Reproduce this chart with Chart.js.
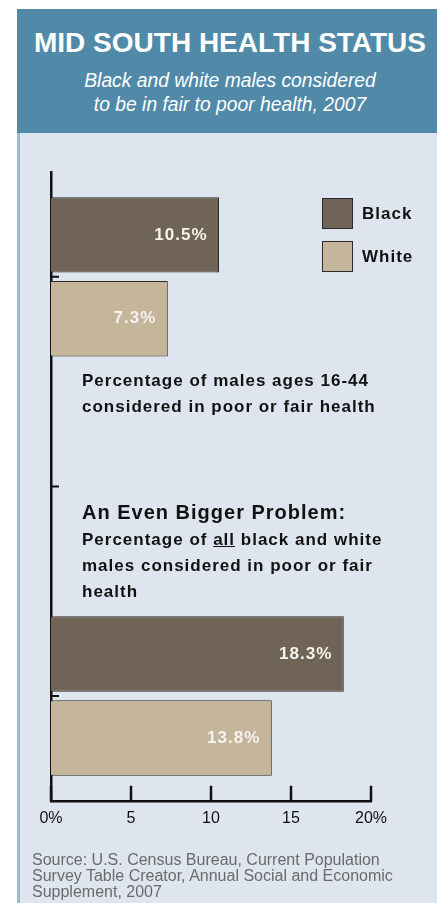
<!DOCTYPE html>
<html>
<head>
<meta charset="utf-8">
<script src="https://cdn.jsdelivr.net/npm/chart.js@4.4.1/dist/chart.umd.min.js"></script>
<style>
  body { margin: 0; width: 437px; height: 903px; overflow: hidden; position: relative; background: #fff;
         font-family: "Liberation Sans", Arial, sans-serif; }
  #cabecera { position: absolute; left: 17px; top: 9px; width: 420px; height: 124px; background: #518aa8; }
  #panel { position: absolute; left: 17px; top: 133px; width: 417px; height: 770px; background: #dfe5ef;
           border-left: 3px solid #9dbad2; }
  .linea { position: absolute; white-space: nowrap; }
  #titulo { left: 20px; width: 420px; top: 27px; line-height: 32px; text-align: center; color: #fff;
            font-size: 28px; font-weight: bold; }
  #subtitulo { left: 20px; width: 420px; top: 69px; line-height: 24px; text-align: center; color: #fff;
               font-size: 19.3px; font-style: italic; }
  .nota { left: 82px; color: #111; font-weight: bold; font-size: 17px; letter-spacing: 1px; line-height: 26px; }
  #problema { font-size: 20px; }
  #fuente { left: 32px; top: 852px; color: #6a6a6a; font-size: 16px; line-height: 16px; }
  #leyenda { position: absolute; left: 322px; top: 198px; }
  .item { display: flex; align-items: center; height: 31px; margin-bottom: 12px; }
  .caja { width: 29px; height: 29px; border: 1px solid #2a2a2a; margin-right: 9px; }
  .item span { font-weight: bold; font-size: 17px; letter-spacing: 1px; color: #111; }
  canvas { position: absolute; left: 0; top: 0; }
</style>
</head>
<body>
<div id="cabecera"></div>
<div id="panel"></div>
<div class="linea" id="titulo">MID SOUTH HEALTH STATUS</div>
<div class="linea" id="subtitulo">Black and white males considered<br>to be in fair to poor health, 2007</div>
<canvas id="grafico" width="437" height="903"></canvas>
<div id="leyenda"></div>
<div class="linea nota" style="top:368px">Percentage of males ages 16-44<br>considered in poor or fair health</div>
<div class="linea nota" id="problema" style="top:499px">An Even Bigger Problem:</div>
<div class="linea nota" style="top:527px">Percentage of <u>all</u> black and white<br>males considered in poor or fair<br>health</div>
<div class="linea" id="fuente">Source: U.S. Census Bureau, Current Population<br>Survey Table Creator, Annual Social and Economic<br>Supplement, 2007</div>
<script>
const categorias = ["Males ages 16-44", "", "All males"];
const series = ["Black", "White"];
const valoresBlack = [10.5, null, 18.3];
const valoresWhite = [7.3, null, 13.8];
const etiquetasX = ["0%", "5", "10", "15", "20%"];

const COLORES = ["#6f6456", "#c4b59b"];
const FUENTE = '"Liberation Sans", Arial, sans-serif';

// leyenda en html
const leyenda = document.getElementById("leyenda");
series.forEach((s, i) => {
    const item = document.createElement("div");
    item.className = "item";
    item.innerHTML = '<div class="caja" style="background:' + COLORES[i] + '"></div><span>' + s + '</span>';
    leyenda.appendChild(item);
});

// marcas de los ejes hacia dentro
const marcasInteriores = {
    id: "marcasInteriores",
    afterDraw(chart) {
        const {ctx, chartArea, scales: {x, y}} = chart;
        ctx.save();
        ctx.strokeStyle = "#111";
        ctx.lineWidth = 2.5;
        ctx.beginPath();
        x.ticks.forEach((t, i) => {
            const px = x.getPixelForTick(i);
            ctx.moveTo(px, chartArea.bottom + 1);
            ctx.lineTo(px, chartArea.bottom - 15);
        });
        ctx.stroke();
        ctx.lineWidth = 2;
        ctx.beginPath();
        y.ticks.forEach((t, i) => {
            const py = y.getPixelForTick(i);
            ctx.moveTo(chartArea.left - 1, py);
            ctx.lineTo(chartArea.left + 8, py);
        });
        ctx.stroke();
        ctx.restore();
    }
};

const etiquetasBarras = {
    id: "etiquetasBarras",
    afterDatasetsDraw(chart) {
        const ctx = chart.ctx;
        ctx.save();
        ctx.font = "bold 17px " + FUENTE;
        ctx.letterSpacing = "1px";
        ctx.fillStyle = "#f6f4ef";
        ctx.textAlign = "right";
        ctx.textBaseline = "middle";
        chart.data.datasets.forEach((ds, i) => {
            chart.getDatasetMeta(i).data.forEach((barra, j) => {
                if (ds.data[j] == null) return;
                ctx.fillText(ds.data[j].toFixed(1) + "%", barra.x - 11.5, barra.y);
            });
        });
        ctx.restore();
    }
};

const ctx = document.getElementById("grafico").getContext("2d");
new Chart(ctx, {
    type: "bar",
    data: {
        labels: categorias,
        datasets: [
            {label: series[0], data: valoresBlack, backgroundColor: COLORES[0], borderColor: "#2e2a26", borderWidth: 1},
            {label: series[1], data: valoresWhite, backgroundColor: COLORES[1], borderColor: "#2e2a26", borderWidth: 1}
        ]
    },
    options: {
        indexAxis: "y",
        responsive: false,
        animation: false,
        categoryPercentage: 0.8,
        barPercentage: 0.9,
        layout: {padding: {left: 51, top: 172, right: 66, bottom: 67}},
        plugins: {legend: {display: false}, tooltip: {enabled: false}},
        scales: {
            x: {
                min: 0, max: 20,
                grid: {display: false, drawTicks: false},
                border: {display: true, color: "#111", width: 2.5},
                ticks: {
                    stepSize: 5, padding: 8, color: "#111",
                    font: {family: FUENTE, size: 16},
                    callback: (v, i) => etiquetasX[i]
                }
            },
            y: {
                grid: {display: false, drawTicks: false},
                border: {display: true, color: "#111", width: 2.5},
                ticks: {display: false}
            }
        }
    },
    plugins: [marcasInteriores, etiquetasBarras]
});
</script>
</body>
</html>
